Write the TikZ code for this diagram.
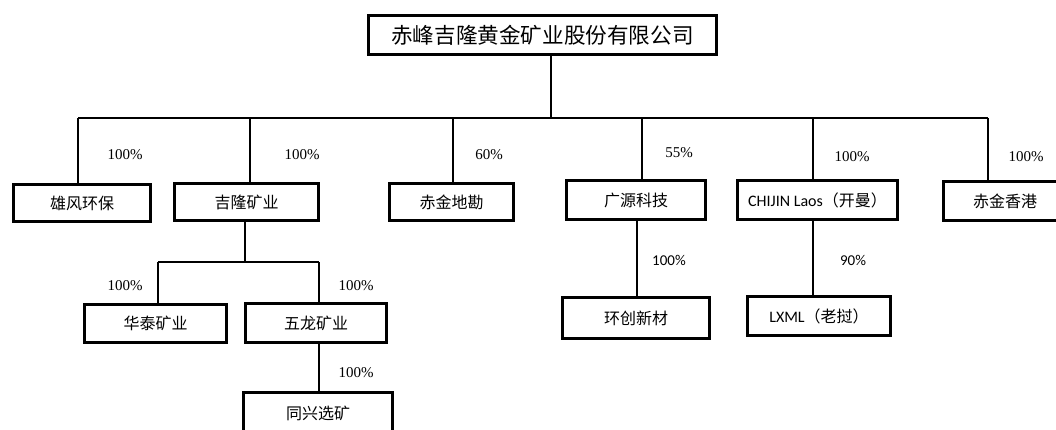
\documentclass[tikz,border=0pt]{standalone}
\usepackage{fontspec}
\setmainfont{Liberation Serif}
\newfontfamily\cjk{Noto Sans CJK SC}
\newfontfamily\calfont{Carlito}
\begin{document}
\begin{tikzpicture}[x=1pt,y=-1pt,
  box/.style={draw, line width=3pt, rectangle, inner sep=0pt, font=\cjk\fontsize{16}{16}\selectfont},
  conn/.style={line width=1.4pt},
  pct/.style={font=\fontsize{15}{15}\selectfont, inner sep=0pt},
  pcts/.style={font=\calfont\fontsize{15}{15}\selectfont, inner sep=0pt}]
\useasboundingbox (0,0) rectangle (1056,430);
\clip (0,0) rectangle (1056,430);
\fill[white] (0,0) rectangle (1056,430);
% boxes
\node[box, minimum width=348, minimum height=39, font=\cjk\fontsize{21.6}{21.6}\selectfont] (top) at (542.5,35) {赤峰吉隆黄金矿业股份有限公司};
\node[box, minimum width=137, minimum height=37] (xf) at (82,203) {雄风环保};
\node[box, minimum width=144, minimum height=37] (jl) at (246.5,202) {吉隆矿业};
\node[box, minimum width=124, minimum height=37] (cj) at (451.5,202) {赤金地勘};
\node[box, minimum width=139, minimum height=39] (gy) at (636,200) {广源科技};
\node[box, minimum width=160, minimum height=39] (laos) at (817.5,200) {{\calfont CHIJIN Laos}（开曼）};
\node[box, minimum width=123, minimum height=39] (hk) at (1005,201) {赤金香港};
\node[box, minimum width=142, minimum height=38] (ht) at (155.5,323.5) {华泰矿业};
\node[box, minimum width=141, minimum height=39] (wl) at (316,323) {五龙矿业};
\node[box, minimum width=149, minimum height=41] (tx) at (318,413) {同兴选矿};
\node[box, minimum width=147, minimum height=41] (hc) at (636,318) {环创新材};
\node[box, minimum width=143, minimum height=39] (lx) at (819,316) {{\calfont LXML}（老挝）};
% bus coordinates
\coordinate (bt) at (551,118);
\coordinate (b1) at (78,118);
\coordinate (b2) at (250,118);
\coordinate (b3) at (453,118);
\coordinate (b4) at (642,118);
\coordinate (b5) at (813,118);
\coordinate (b6) at (988,118);
\draw[conn] (top.south -| bt) -- (bt);
\draw[conn] (b1) -- (b6);
\draw[conn] (b1) -- (b1 |- xf.north);
\draw[conn] (b2) -- (b2 |- jl.north);
\draw[conn] (b3) -- (b3 |- cj.north);
\draw[conn] (b4) -- (b4 |- gy.north);
\draw[conn] (b5) -- (b5 |- laos.north);
\draw[conn] (b6) -- (b6 |- hk.north);
% second level
\coordinate (j0) at (245,262);
\coordinate (j1) at (158,262);
\coordinate (j2) at (319,262);
\draw[conn] (jl.south -| j0) -- (j0);
\draw[conn] (j1) -- (j2);
\draw[conn] (j1) -- (j1 |- ht.north);
\draw[conn] (j2) -- (j2 |- wl.north);
\coordinate (w0) at (319,0);
\draw[conn] (wl.south -| w0) -- (tx.north -| w0);
\coordinate (g0) at (637,0);
\draw[conn] (gy.south -| g0) -- (hc.north -| g0);
\coordinate (l0) at (813,0);
\draw[conn] (laos.south -| l0) -- (lx.north -| l0);
% labels
\node[pct] (p1) at (125,155) {100\%};
\node[pct] (p2) at (302,155) {100\%};
\node[pct] (p3) at (489,155) {60\%};
\node[pct] (p4) at (679,153) {55\%};
\node[pct] (p5) at (852,157) {100\%};
\node[pct] (p6) at (1026,157) {100\%};
\node[pct] (p7) at (125,286) {100\%};
\node[pct] (p8) at (356,286) {100\%};
\node[pct] (p9) at (356,373) {100\%};
\node[pcts] (p10) at (669,260) {100\%};
\node[pcts] (p11) at (853,260) {90\%};
\end{tikzpicture}
\end{document}
